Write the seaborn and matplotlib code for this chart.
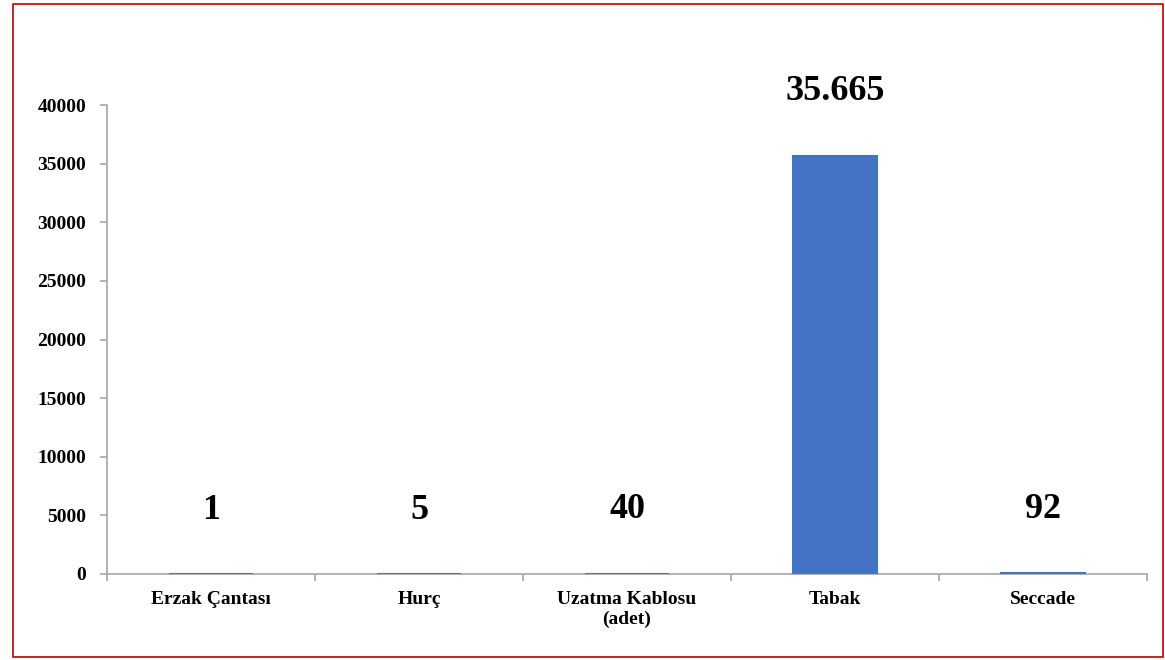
import numpy as np
import pandas as pd
import matplotlib
matplotlib.use("Agg")
import matplotlib.pyplot as plt
import seaborn as sns
from matplotlib.patches import Rectangle

categories = ["Erzak Çantası", "Hurç", "Uzatma Kablosu\n(adet)", "Tabak", "Seccade"]
values = [1, 5, 40, 35665, 92]
value_labels = ["1", "5", "40", "35.665", "92"]
y_ticks = [0, 5000, 10000, 15000, 20000, 25000, 30000, 35000, 40000]

df = pd.DataFrame({"kategori": categories, "adet": values})

sns.set_style("white")
plt.rcParams["font.family"] = ["Liberation Serif", "DejaVu Serif"]
plt.rcParams["font.weight"] = "bold"
plt.rcParams["text.color"] = "black"
plt.rcParams["xtick.color"] = "black"
plt.rcParams["ytick.color"] = "black"

fig = plt.figure(figsize=(11.65, 6.6), dpi=100)
ax = fig.add_axes([107 / 1165, 1 - 574 / 660, 1040 / 1165, 469 / 660])

sns.barplot(data=df, x="kategori", y="adet", color="#4472C4", width=0.4,
            saturation=1, edgecolor="#4472C4", linewidth=1.5, ax=ax)
# keep the tiny bars visible above the axis line
for p in ax.patches:
    p.set_zorder(3)

# data labels sit well above the bars
for i, (v, lab) in enumerate(zip(values, value_labels)):
    ax.annotate(lab, xy=(i, v), xytext=(0, 46), textcoords="offset points",
                ha="center", va="center", fontsize=26, fontweight="bold")

ax.set_xlim(-0.5, len(categories) - 0.5)
ax.set_ylim(0, 40000)
ax.set_yticks(y_ticks)
ax.set_yticklabels([str(t) for t in y_ticks], fontsize=14, fontweight="bold")
ax.set_xticks(range(len(categories)))
ax.set_xticklabels(categories, fontsize=14, fontweight="bold")
ax.set_xlabel("")
ax.set_ylabel("")

for s in ["top", "right"]:
    ax.spines[s].set_visible(False)
for s in ["left", "bottom"]:
    ax.spines[s].set_color("#A6A6A6")
    ax.spines[s].set_linewidth(1.2)

ax.tick_params(axis="y", left=True, length=5, width=1.2, color="#A6A6A6", pad=10)
ax.tick_params(axis="x", which="major", bottom=False, length=0, pad=12)
ax.set_xticks(np.arange(-0.5, len(categories)), minor=True)
ax.tick_params(axis="x", which="minor", bottom=True, length=5, width=1.2, color="#A6A6A6")

# frame around the whole chart
fig.patches.append(Rectangle((13 / 1165, 3 / 660), 1150 / 1165, 653 / 660,
                             transform=fig.transFigure, fill=False,
                             edgecolor="#C00000", linewidth=1.2))

plt.savefig("out.png", dpi=100)
plt.close()
